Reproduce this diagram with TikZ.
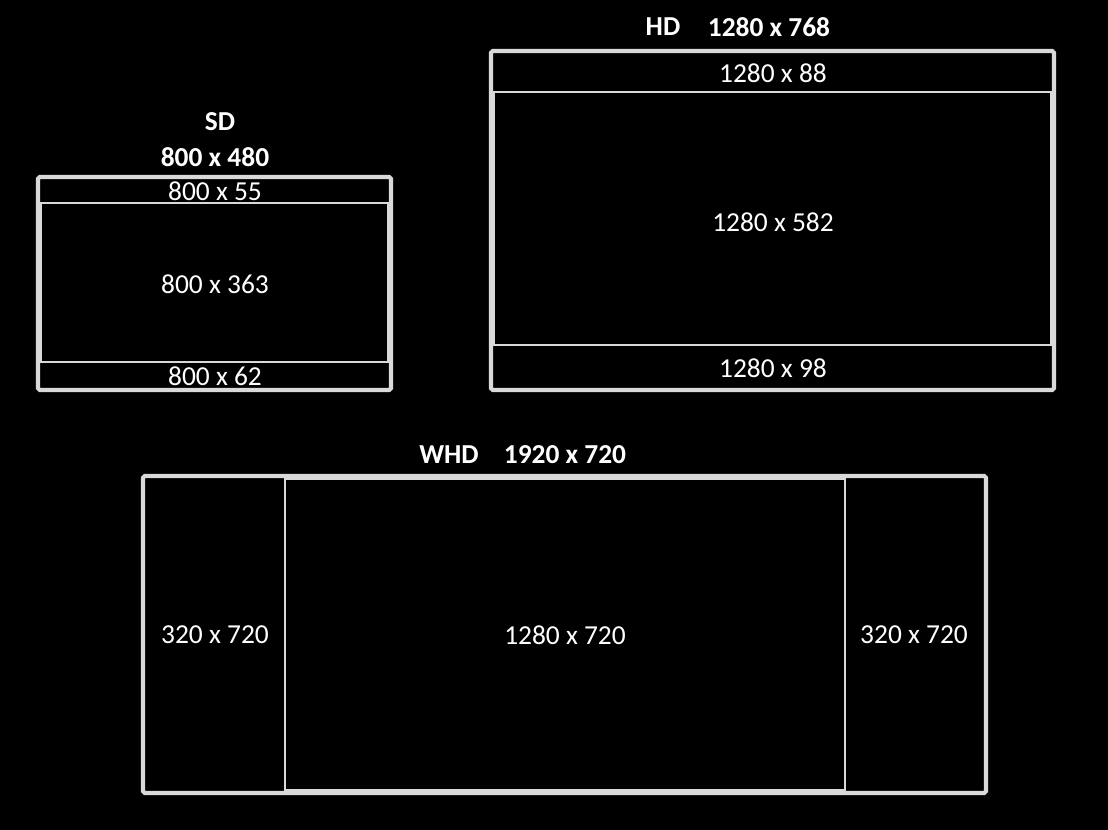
\documentclass[tikz,border=0pt]{standalone}
\usepackage{fontspec}
\setmainfont{Carlito}
\usepackage{tikz}
\usetikzlibrary{positioning}
\definecolor{framegray}{HTML}{D9D9D9}

\begin{document}
\begin{tikzpicture}[x=0.02cm,y=-0.02cm,
  outerframe/.style={draw=framegray,line width=2.3pt,rounded corners=1pt},
  innerframe/.style={draw=framegray,line width=1.4pt},
  dimlabel/.style={text=white,font=\fontsize{15.6}{18}\selectfont,inner sep=0pt},
  titlelabel/.style={text=white,font=\fontsize{15.6}{18}\selectfont\bfseries,inner sep=0pt}]
\fill[black] (0,0) rectangle (1108,830);
\useasboundingbox (0,0) rectangle (1108,830);

% SD panel
\draw[outerframe] (38,177) rectangle (391,390);
\draw[innerframe] (41,203) rectangle (388,362);
\node[titlelabel] (sdname) at (220,122) {SD};
\node[titlelabel] (sdsize) at (215,157) {800 x 480};
\node[dimlabel] (sdtop) at (215,191) {800 x 55};
\node[dimlabel] (sdmid) at (215,284) {800 x 363};
\node[dimlabel] (sdbot) at (215,376) {800 x 62};

% HD panel
\draw[outerframe] (491,51) rectangle (1054,390);
\draw[innerframe] (494,92) rectangle (1051,345);
\node[titlelabel] (hdname) at (663,27) {HD};
\node[titlelabel] (hdsize) at (769,27) {1280 x 768};
\node[dimlabel] (hdtop) at (773,73) {1280 x 88};
\node[dimlabel] (hdmid) at (773,222) {1280 x 582};
\node[dimlabel] (hdbot) at (773,368) {1280 x 98};

% WHD panel
\draw[outerframe] (143,476) rectangle (986,793);
\draw[innerframe] (285,479) rectangle (845,790);
\node[titlelabel] (whdname) at (449,455) {WHD};
\node[titlelabel] (whdsize) at (565,455) {1920 x 720};
\node[dimlabel] (whdleft) at (215,635) {320 x 720};
\node[dimlabel] (whdmid) at (565,635) {1280 x 720};
\node[dimlabel] (whdright) at (914,635) {320 x 720};
\end{tikzpicture}
\end{document}
